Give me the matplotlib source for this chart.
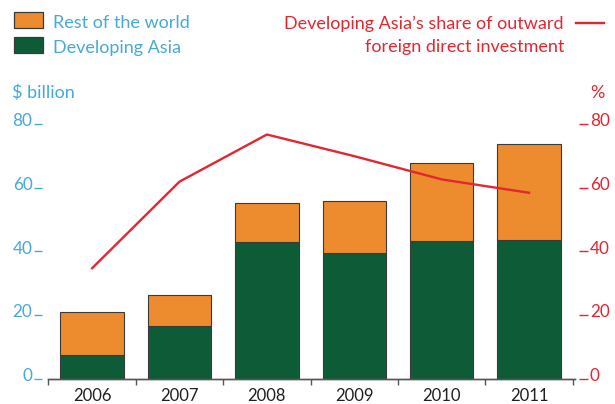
import matplotlib.pyplot as plt
import numpy as np
from matplotlib import patches
from matplotlib.lines import Line2D
from matplotlib.transforms import ScaledTranslation

plt.rcParams["font.family"] = ["Lato", "DejaVu Sans"]

years = ["2006", "2007", "2008", "2009", "2010", "2011"]
developing_asia = [7.3, 16.5, 42.8, 39.4, 43.1, 43.5]
rest_of_world = [13.6, 9.7, 12.5, 16.5, 24.8, 30.3]
asia_share = [34.7, 61.9, 76.7, 69.9, 62.6, 58.4]

y_ticks = [0, 20, 40, 60, 80]

ORANGE = "#EC8C2E"
GREEN = "#0E5C37"
BLUE = "#45A9DA"
RED = "#E3262F"
EDGE = "#3A3A3A"

W, H = 615, 404


def fx(px: float) -> float:
    return px / W


def fy(py: float) -> float:
    return 1 - py / H


fig = plt.figure(figsize=(6.15, 4.04), dpi=100)
ax = fig.add_axes((fx(48), fy(378.7), fx(575) - fx(48), fy(124) - fy(378.7)))
ax2 = ax.twinx()

x = np.arange(len(years))
ax.bar(x, developing_asia, width=0.725, color=GREEN, edgecolor=EDGE, linewidth=0.8)
ax.bar(x, rest_of_world, width=0.725, bottom=developing_asia,
       color=ORANGE, edgecolor=EDGE, linewidth=0.8)
ax2.plot(x, asia_share, color=RED, linewidth=1.7, clip_on=False)

for a in (ax, ax2):
    a.set_xlim(-0.505, 5.526)
    a.set_ylim(0, 80)
    a.set_yticks(y_ticks)
    for side in ("top", "left", "right"):
        a.spines[side].set_visible(False)
    a.spines["bottom"].set_color("#555555")
    a.spines["bottom"].set_linewidth(1.0)

ax.set_xticks(x, years)
ax.set_xticks(np.arange(-0.5, 6, 1), minor=True)
ax.tick_params(axis="x", which="major", length=0, pad=7, labelsize=12,
               labelcolor="#231F20")
ax.tick_params(axis="x", which="minor", length=4, width=1.0, color="#555555",
               direction="out")

ax.spines["left"].set_position(("outward", 4))
ax.tick_params(axis="y", length=6, width=1.0, color=BLUE, labelcolor=BLUE,
               labelsize=12.3, pad=1.2)

ax2.spines["right"].set_position(("outward", 3))
ax2.tick_params(axis="y", length=6.5, width=1.0, color=RED, labelcolor=RED,
                labelsize=12.3, pad=1.2)

# numbers sit a little above their tick marks
lift = ScaledTranslation(0, 3 / 72, fig.dpi_scale_trans)
for a in (ax, ax2):
    for tick in a.yaxis.get_major_ticks():
        for lab in (tick.label1, tick.label2):
            lab.set_transform(lab.get_transform() + lift)

# legend on the left
for top, colour, label in ((12.3, ORANGE, "Rest of the world"),
                           (37.3, GREEN, "Developing Asia")):
    fig.patches.append(patches.Rectangle(
        (fx(14), fy(top + 15.5)), fx(29), fy(top) - fy(top + 15.5),
        transform=fig.transFigure, facecolor=colour, edgecolor=EDGE,
        linewidth=0.9))
    fig.text(fx(53), fy(top + 15.8), label, color=BLUE, fontsize=13,
             va="baseline", ha="left")

# line key on the right
fig.text(fx(564), fy(28.7), "Developing Asia\u2019s share of outward",
         color=RED, fontsize=13, ha="right", va="baseline")
fig.text(fx(564), fy(52), "foreign direct investment",
         color=RED, fontsize=13, ha="right", va="baseline")
fig.lines.append(Line2D([fx(576), fx(604)], [fy(23.3), fy(23.3)],
                        transform=fig.transFigure, color=RED, linewidth=1.7))

fig.text(fx(12), fy(98.5), "$ billion", color=BLUE, fontsize=13,
         ha="left", va="baseline")
fig.text(fx(605), fy(98.5), "%", color=RED, fontsize=13,
         ha="right", va="baseline")

fig.savefig("out.png", dpi=100)
